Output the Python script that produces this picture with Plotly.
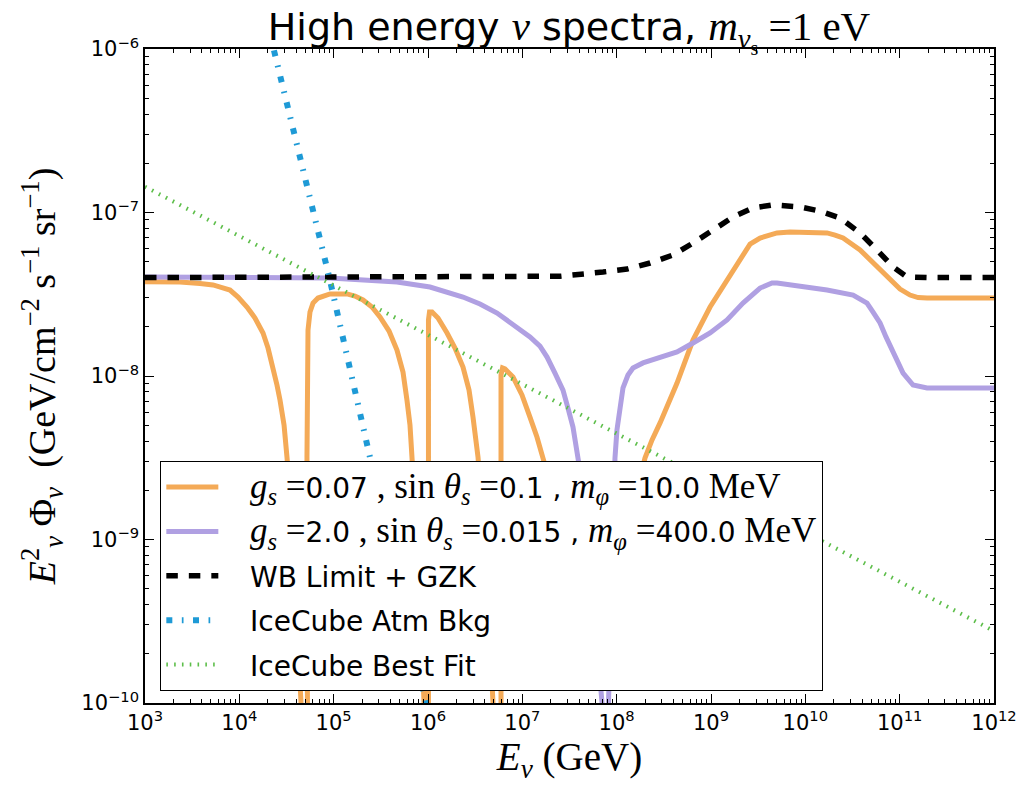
import numpy as np
import plotly.graph_objects as go

# ---- data (log10 values) ----
orange_logE = [3.000, 3.371, 3.583, 3.721, 3.816, 3.901, 3.986, 4.081, 4.166, 4.251, 4.304, 4.357, 4.399,
               4.431, 4.474, 4.505, 4.548, 4.590, 4.633, 4.654, 4.686,
               4.722, 4.717, 4.717, 4.728, 4.749, 4.781, 4.834, 4.961, 5.141, 5.226, 5.311, 5.406, 5.491,
               5.587, 5.671, 5.735, 5.777, 5.809, 5.830, 5.873, 5.905, 5.936, 5.958, 5.979,
               6.005, 6.005, 6.016, 6.043, 6.106, 6.202, 6.286, 6.371, 6.435, 6.477, 6.530, 6.583, 6.626,
               6.657, 6.689, 6.732,
               6.774, 6.774, 6.790, 6.816, 6.901, 6.996, 7.081, 7.155, 7.219, 7.315, 7.452, 7.611, 7.770,
               7.930, 8.088, 8.205, 8.300, 8.375, 8.460, 8.640, 8.809, 8.990, 9.170, 9.339, 9.414, 9.520,
               9.604, 9.700, 9.838, 10.050, 10.230, 10.315, 10.400, 10.580, 10.665, 10.760, 10.845, 10.929,
               11.004, 11.110, 11.195, 11.290, 12.000]
orange_logF = [-7.423, -7.425, -7.434, -7.443, -7.459, -7.474, -7.517, -7.578, -7.645, -7.737, -7.829, -7.945, -8.055,
               -8.147, -8.300, -8.495, -8.820, -9.248, -9.676, -10.0, -12.0,
               -10.0, -8.495, -7.902, -7.719, -7.609, -7.554, -7.523, -7.498, -7.498, -7.511, -7.535, -7.578, -7.639,
               -7.725, -7.841, -7.976, -8.147, -8.300, -8.495, -8.881, -9.248, -9.676, -10.0, -12.0,
               -10.0, -7.657, -7.609, -7.609, -7.645, -7.737, -7.829, -7.945, -8.086, -8.251, -8.495, -8.881, -9.248,
               -9.615, -10.0, -12.0,
               -10.0, -7.994, -7.951, -7.957, -8.006, -8.116, -8.251, -8.373, -8.502, -8.697, -8.972, -9.187, -9.248,
               -9.156, -8.942, -8.728, -8.502, -8.391, -8.287, -8.043, -7.780, -7.578, -7.413, -7.248, -7.193, -7.156,
               -7.138, -7.125, -7.119, -7.119, -7.125, -7.138, -7.156, -7.229, -7.278, -7.333, -7.382, -7.431,
               -7.468, -7.505, -7.520, -7.523, -7.523]

purple_logE = [3.000, 4.113, 4.961, 5.671, 6.021, 6.371, 6.551, 6.732, 6.901, 7.081, 7.187, 7.262, 7.346,
               7.431, 7.484, 7.537, 7.590, 7.643, 7.717, 7.792, 7.845, 7.876, 7.913, 7.940, 7.961, 7.982,
               8.003, 8.035, 8.067, 8.120, 8.173, 8.279, 8.385, 8.640, 8.809, 8.990, 9.170, 9.339, 9.520,
               9.647, 9.700, 9.870, 10.230, 10.506, 10.654, 10.718, 10.792, 10.855, 10.929, 10.982, 11.036,
               11.142, 11.290, 12.000]
purple_logF = [-7.394, -7.394, -7.401, -7.425, -7.456, -7.517, -7.560, -7.615, -7.682, -7.761, -7.817, -7.884, -7.982,
               -8.086, -8.196, -8.312, -8.502, -8.697, -9.125, -9.615, -10.0, -12.0, -10.0, -9.492, -9.003, -8.502,
               -8.330, -8.177, -8.073, -7.994, -7.951, -7.920, -7.902, -7.853, -7.798, -7.737, -7.657, -7.554, -7.462,
               -7.431, -7.431, -7.443, -7.474, -7.505, -7.554, -7.609, -7.676, -7.761, -7.859, -7.920, -7.982,
               -8.055, -8.073, -8.073]

wb_logE = [3.0, 6.021, 6.732, 7.40, 7.856, 8.11, 8.354, 8.597, 8.809, 9.021, 9.233, 9.445, 9.657,
           9.944, 10.156, 10.368, 10.580, 10.760, 10.930, 11.078, 11.290, 12.0]
wb_logF = [-7.398, -7.398, -7.392, -7.390, -7.364, -7.346, -7.309, -7.260, -7.187, -7.107, -7.028, -6.972, -6.954,
           -6.966, -6.991, -7.034, -7.125, -7.229, -7.333, -7.394, -7.398, -7.398]

atm_logE = [4.30, 4.379, 4.951, 5.386, 5.98, 6.00]
atm_logF = [-5.85, -6.04, -7.39, -8.50, -10.0, -10.05]

fit_logE = [3.0, 12.0]
fit_logF = [-6.842, -9.560]

x_tick_exp = [3, 4, 5, 6, 7, 8, 9, 10, 11, 12]
y_tick_exp = [-10, -9, -8, -7, -6]

SERIF = "Liberation Serif, DejaVu Serif, serif"
SANS = "DejaVu Sans, sans-serif"


def S(t, size=None):
    st = "font-family:Liberation Serif"
    if size:
        st += ";font-size:%dpx" % size
    return '<span style="%s">%s</span>' % (st, t)


LS = 35  # serif size inside legend
PAD = "&nbsp;&nbsp;&nbsp;"
name_orange = (PAD + S("<i>g</i><sub><i>s</i></sub> =", LS) + "0.07" +
               S(" , sin <i>θ</i><sub><i>s</i></sub> =", LS) + "0.1" + " , " +
               S("<i>m</i><sub><i>φ</i></sub> =", LS) + "10.0" + S(" MeV", LS))
name_purple = (PAD + S("<i>g</i><sub><i>s</i></sub> =", LS) + "2.0" +
               S(" , sin <i>θ</i><sub><i>s</i></sub> =", LS) + "0.015" + " , " +
               S("<i>m</i><sub><i>φ</i></sub> =", LS) + "400.0" + S(" MeV", LS))


def p(v):
    return 10 ** np.array(v, dtype=float)


def tick_text(exps):
    return ["10<sup>%s</sup>" % (str(e).replace("-", "−")) for e in exps]


fig = go.Figure()
fig.add_trace(go.Scatter(x=p(orange_logE), y=p(orange_logF), mode="lines", name=name_orange,
                         legendgroup="a", line=dict(color="#F4AA57", width=5)))
fig.add_trace(go.Scatter(x=p(purple_logE), y=p(purple_logF), mode="lines", name=name_purple,
                         legendgroup="b", line=dict(color="#B0A0E2", width=5)))
fig.add_trace(go.Scatter(x=p(wb_logE), y=p(wb_logF), mode="lines", name=PAD + "WB Limit + GZK",
                         legendgroup="c", line=dict(color="black", width=5.5, dash="11.5px,11px")))
fig.add_trace(go.Scatter(x=p(atm_logE), y=p(atm_logF), mode="lines", name=PAD + "IceCube Atm Bkg",
                         legendgroup="d", line=dict(color="#1E9AD6", width=6, dash="6px,9.5px,1.7px,9.5px")))
fig.add_trace(go.Scatter(x=p(fit_logE), y=p(fit_logF), mode="lines", name=PAD + "IceCube Best Fit",
                         legendgroup="e", line=dict(color="#5DBE4A", width=4, dash="1.6px,6.2px")))

axis_common = dict(
    type="log", automargin=False,
    showline=True, linecolor="black", linewidth=1.5, mirror="allticks",
    ticks="inside", ticklen=9, tickwidth=1.2, tickcolor="black",
    minor=dict(ticks="inside", ticklen=4.5, tickwidth=1, tickcolor="black", dtick="D1", showgrid=False),
    showgrid=False, zeroline=False, ticklabeloverflow="allow",
    tickfont=dict(family=SANS, size=21, color="black"),
)

fig.update_layout(
    width=1017, height=785,
    margin=dict(l=145, r=23, t=49, b=82),
    paper_bgcolor="white", plot_bgcolor="white",
    title=dict(text="High energy " + S("<i>ν</i>", 41) + " spectra, " +
               S("<i>m</i><sub><i>ν</i><sub>s</sub></sub> =1 eV", 41),
               x=0.5595, xanchor="center", y=0.966, yanchor="middle",
               font=dict(family=SANS, size=38, color="black")),
    xaxis=dict(range=[3, 12], tickmode="array", tickvals=list(p(x_tick_exp)),
               ticktext=tick_text(x_tick_exp),
               title=dict(text="<i>E</i><sub><i>ν</i></sub> (GeV)",
                          font=dict(family=SERIF, size=39, color="black"), standoff=8),
               **axis_common),
    yaxis=dict(range=[-10, -6], tickmode="array", tickvals=list(p(y_tick_exp)),
               ticktext=tick_text(y_tick_exp),
               title=dict(text="<i>E</i><sup>2</sup><sub><i>ν</i></sub> Φ<sub><i>ν</i></sub>  (GeV/cm<sup>−2</sup> s<sup>−1</sup> sr<sup>−1</sup>)",
                          font=dict(family=SERIF, size=38, color="black"), standoff=14),
               **axis_common),
    legend=dict(x=0.0177, y=0.370, xanchor="left", yanchor="top",
                bordercolor="black", borderwidth=1.3, bgcolor="white",
                font=dict(family=SANS, size=28, color="black"),
                tracegroupgap=5, itemwidth=52),
    showlegend=True,
)

fig.write_html("out.html")
